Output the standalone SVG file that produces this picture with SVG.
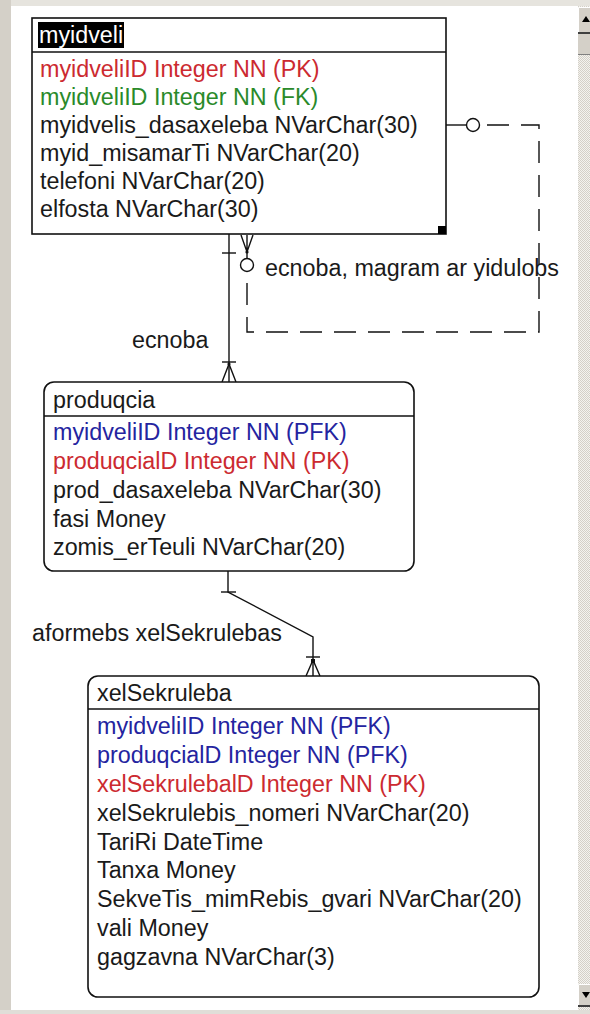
<svg xmlns="http://www.w3.org/2000/svg" width="590" height="1014" viewBox="0 0 590 1014">
<style>
  text { font-family: "Liberation Sans", Arial, sans-serif; font-size: 23.3px; fill: #1a1a1a; }
  .red { fill: #cc2a30; }
  .green { fill: #2a8a2a; }
  .blue { fill: #2424a0; }
  .hdr { fill: #ffffff; }
  .box { fill: #ffffff; stroke: #111; stroke-width: 1.6; }
  .sep { stroke: #111; stroke-width: 1.6; fill: none; }
  .ln { stroke: #111; stroke-width: 1.4; fill: none; }
  .dash { stroke: #111; stroke-width: 1.4; fill: none; stroke-dasharray: 22 12; }
  .circ { fill: #ffffff; stroke: #111; stroke-width: 1.4; }
</style>
<defs>
  <pattern id="dither" width="2" height="2" patternUnits="userSpaceOnUse">
    <rect width="2" height="2" fill="#f4f3ef"/>
    <rect width="1" height="1" fill="#d4d0c8"/>
    <rect x="1" y="1" width="1" height="1" fill="#d4d0c8"/>
  </pattern>
</defs>

<!-- window background -->
<rect x="0" y="0" width="590" height="1014" fill="#ffffff"/>
<rect x="0" y="0" width="590" height="6" fill="#e6e4de"/>
<rect x="0" y="0" width="11" height="1014" fill="#d4d0c8"/>
<rect x="0" y="1010" width="590" height="4" fill="#e0ded8"/>

<!-- scrollbar -->
<g id="scrollbar">
  <rect x="578" y="6" width="12" height="1004" fill="url(#dither)"/>
  <rect x="578" y="7" width="12" height="26" fill="#d4d0c8"/>
  <path d="M578.5,32 V7.5 H590" stroke="#fff" fill="none"/>
  <path d="M582,22 L586,16 L590,22 Z" fill="#000"/>
  <rect x="578" y="32" width="12" height="2" fill="#404040"/>
  <rect x="578" y="34" width="12" height="20" fill="#d4d0c8"/>
  <rect x="578" y="54" width="12" height="1" fill="#808080"/>
  <rect x="578" y="984" width="12" height="22" fill="#d4d0c8"/>
  <path d="M578.5,1006 V984.5 H590" stroke="#fff" fill="none"/>
  <path d="M582,992 L586,998 L590,992 Z" fill="#000"/>
  <rect x="578" y="1005" width="12" height="2" fill="#404040"/>
</g>

<!-- connectors -->
<g id="connectors">
  <!-- myidveli -> produqcia (ecnoba) -->
  <line class="ln" x1="229" y1="234" x2="229" y2="382"/>
  <line class="ln" x1="222" y1="253" x2="236" y2="253"/>
  <line class="ln" x1="222" y1="362" x2="236" y2="362"/>
  <path class="ln" d="M222,382 L229,364 L236,382"/>
  <circle cx="229" cy="364" r="1.6" fill="#111"/>

  <!-- produqcia -> xelSekruleba -->
  <path class="ln" d="M228,571 V592 L313,637 V676"/>
  <line class="ln" x1="221" y1="592" x2="236" y2="592"/>
  <line class="ln" x1="306" y1="657" x2="320" y2="657"/>
  <path class="ln" d="M306,676 L313,660 L320,676"/>
  <rect x="311" y="659" width="4" height="4" fill="#111"/>

  <!-- myidveli self relationship (non-identifying, dashed) -->
  <line class="ln" x1="446" y1="125" x2="466" y2="125"/>
  <circle class="circ" cx="473" cy="125" r="6.5"/>
  <path class="dash" d="M487,125 H539 V332 H247 V272"/>
  <circle class="circ" cx="247" cy="265" r="6.5"/>
  <path class="ln" d="M241,235 L247,252 L253,235 M247,235 V258"/>
  <circle cx="247" cy="252" r="1.6" fill="#111"/>
</g>

<!-- relationship labels -->
<g id="labels">
  <text x="265" y="276">ecnoba, magram ar yidulobs</text>
  <text x="132" y="348">ecnoba</text>
  <text x="32" y="641">aformebs xelSekrulebas</text>
</g>

<!-- entity: myidveli -->
<g id="myidveli">
  <rect class="box" x="32" y="18" width="414" height="216"/>
  <line class="sep" x1="32" y1="52" x2="446" y2="52"/>
  <rect x="38" y="22" width="86" height="26" fill="#000"/>
  <text class="hdr" x="39" y="43">myidveli</text>
  <text class="red" x="40" y="77">myidveliID Integer NN (PK)</text>
  <text class="green" x="40" y="105">myidveliID Integer NN (FK)</text>
  <text x="40" y="133">myidvelis_dasaxeleba NVarChar(30)</text>
  <text x="40" y="161">myid_misamarTi NVarChar(20)</text>
  <text x="40" y="189">telefoni NVarChar(20)</text>
  <text x="40" y="217">elfosta NVarChar(30)</text>
  <rect x="438" y="226" width="8" height="8" fill="#000"/>
</g>

<!-- entity: produqcia -->
<g id="produqcia">
  <rect class="box" x="44" y="382" width="370" height="189" rx="10" ry="10"/>
  <line class="sep" x1="44" y1="416" x2="414" y2="416"/>
  <text x="53" y="408">produqcia</text>
  <text class="blue" x="53" y="440">myidveliID Integer NN (PFK)</text>
  <text class="red" x="53" y="469">produqcialD Integer NN (PK)</text>
  <text x="53" y="498">prod_dasaxeleba NVarChar(30)</text>
  <text x="53" y="527">fasi Money</text>
  <text x="53" y="555">zomis_erTeuli NVarChar(20)</text>
</g>

<!-- entity: xelSekruleba -->
<g id="xelSekruleba">
  <rect class="box" x="88" y="676" width="451" height="321" rx="10" ry="10"/>
  <line class="sep" x1="88" y1="709" x2="539" y2="709"/>
  <text x="97" y="701">xelSekruleba</text>
  <text class="blue" x="97" y="734">myidveliID Integer NN (PFK)</text>
  <text class="blue" x="97" y="763">produqcialD Integer NN (PFK)</text>
  <text class="red" x="97" y="792">xelSekrulebalD Integer NN (PK)</text>
  <text x="97" y="821">xelSekrulebis_nomeri NVarChar(20)</text>
  <text x="97" y="850">TariRi DateTime</text>
  <text x="97" y="878">Tanxa Money</text>
  <text x="97" y="907">SekveTis_mimRebis_gvari NVarChar(20)</text>
  <text x="97" y="936">vali Money</text>
  <text x="97" y="965">gagzavna NVarChar(3)</text>
</g>
</svg>
